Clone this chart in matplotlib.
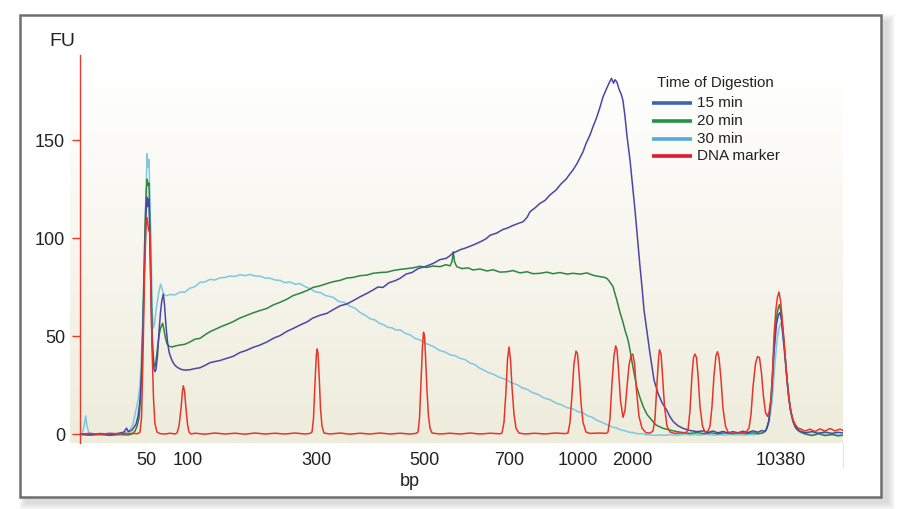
import matplotlib.pyplot as plt
import numpy as np
from matplotlib.lines import Line2D
from matplotlib.patches import Rectangle
from matplotlib.colors import LinearSegmentedColormap

plt.rcParams['font.family'] = ['Liberation Sans', 'DejaVu Sans']

### DATA : migration position (arbitrary units) vs fluorescence (FU)

marker = [(80, 0), (90, 0.3), (100, -0.2), (110, 0.4), (120, 0), (130, 0.3), (138, 0.2),
          (140, 1), (141.5, 8), (143, 40), (144.5, 80), (146, 106), (147, 110.5), (148.5, 104), (150, 103),
          (151, 70), (152, 45), (153.5, 18), (155, 5), (157, 1), (160, 0.2), (165, 0), (170, 0.4), (175, 0),
          (177, 0.5), (179, 4), (181, 13), (182.5, 22), (183.3, 24.6), (184.5, 22), (186, 13), (187.5, 5),
          (189, 1), (191, 0), (195, 0.4), (205, -0.1), (215, 0.5), (225, 0), (235, 0.4), (245, -0.1),
          (255, 0.5), (265, 0), (275, 0.4), (285, 0), (295, 0.5), (305, 0), (310, 0.3),
          (312, 1), (313.5, 8), (315, 26), (316.3, 40), (317.2, 43.4), (318, 41), (319.3, 28), (320.5, 13),
          (322, 4), (324, 0.5), (330, 0), (340, 0.5), (350, -0.1), (360, 0.4), (370, 0), (380, 0.5),
          (390, 0), (400, 0.4), (410, 0), (416, 0.3),
          (418, 1), (419.5, 8), (421, 27), (422.5, 45), (423.5, 51.9), (424.5, 50), (425.5, 40), (427, 22),
          (428.5, 9), (430, 3), (432, 0.5), (440, 0), (450, 0.4), (460, 0), (470, 0.5), (480, 0), (490, 0.4),
          (500, 0.1), (502, 0.5), (504, 6), (506, 22), (507.5, 38), (509, 44.4), (510.5, 38), (512, 24),
          (514, 10), (516, 3), (519, 0.5), (525, 0), (535, 0.4), (545, 0), (555, 0.5), (565, 0.2),
          (568, 0.5), (570, 6), (572, 20), (574, 36), (576, 42.3), (577.5, 41), (579, 32), (581, 16),
          (583, 6), (586, 1), (590, 0.3), (600, 0.5), (606, 0.3),
          (608, 1), (610, 8), (612, 26), (614, 40), (615.7, 45), (617, 43), (618.5, 33), (620.5, 17),
          (623, 8.5), (625, 12), (627, 24), (629, 35), (631, 40), (632.8, 40.8), (634.5, 36), (636.5, 22),
          (639, 9), (642, 3), (646, 0.6), (650, 0.5), (653, 1.5), (655, 8), (657, 26), (658.5, 38),
          (659.5, 43), (661, 41), (662.5, 30), (664.5, 14), (667, 4), (670, 1), (675, 0.3), (682, 0.5),
          (686, 0.8), (688, 2), (690, 12), (692, 30), (693.5, 39), (695, 40.8), (696.5, 39), (698, 30),
          (700, 14), (702.5, 4), (705, 1), (708, 1.5), (710, 4), (712, 14), (714, 30), (716, 40),
          (717.5, 42), (719, 39), (721, 28), (723, 13), (725.5, 4), (728, 1), (733, 0.3), (740, 0.5),
          (746, 1), (749, 3), (751, 10), (753, 24), (755.5, 36), (757.5, 39.5), (759.5, 39), (761.5, 31),
          (763.5, 19), (765.5, 11), (767.5, 9), (769, 11), (771, 18), (772.5, 30), (774, 50), (776, 64),
          (777.5, 70), (779, 72.5), (780.5, 68), (782, 60), (784, 48), (786, 34), (788, 22), (790, 14),
          (792.5, 8), (795, 5), (798, 3), (801, 2.5), (805, 1.5), (810, 2.5), (815, 1.2), (820, 2.6),
          (825, 1.5), (830, 2.8), (835, 1.6), (840, 2.5), (843, 1.8)]

min30 = [(80, 0), (82, 0.2), (84, 4), (85.7, 9.2), (87, 4), (89, 0.5), (95, 0), (100, 0.3), (110, 0),
         (120, 0.2), (126, 0.8), (130, 2), (133, 5), (135, 10), (138, 17), (140, 25), (141.5, 40),
         (143, 62), (144.5, 95), (146, 125), (147.2, 143), (148, 136), (149, 140), (150, 118), (151, 99),
         (152.3, 62), (153.3, 54), (154.5, 56), (156, 63), (157.5, 68), (159, 73), (160.7, 76.5), (162, 74),
         (163.5, 71.5), (166, 70.5), (170, 71.2), (175, 71.0), (180, 72.4), (185, 72.4), (190, 74.4),
         (195, 75.2), (200, 77.4), (205, 77.6), (210, 78.9), (215, 78.6), (220, 79.7), (225, 79.9),
         (230, 80.6), (235, 80.4), (240, 81.3), (245, 80.8), (250, 81.4), (255, 80.6), (260, 80.6),
         (265, 79.6), (270, 79.5), (275, 78.6), (280, 78.4), (285, 77.2), (290, 77.6), (295, 76.4),
         (300, 76.8), (305, 75.2), (310, 74.2), (315, 72.6), (320, 72.2), (326, 70.6), (333, 69.8),
         (339, 67.6), (345, 67.0), (350, 65.2), (355, 64.2), (360, 62.0), (366, 60.4), (370, 58.8),
         (375, 58.2), (379, 56.6), (383, 55.9), (388, 54.4), (392, 54.2), (396, 53.0), (400, 53.2),
         (405, 51.4), (410, 50.6), (415, 48.8), (420, 48.0), (426, 46.2), (433, 44.7), (439, 42.8),
         (445, 41.8), (450, 40.4), (455, 40.0), (460, 38.6), (465, 38.0), (470, 36.2), (475, 35.4),
         (479, 33.8), (483, 32.8), (488, 31.4), (493, 30.6), (499, 29.0), (505, 28.0), (511, 26.2),
         (517, 25.2), (522, 23.6), (527, 22.8), (533, 21.0), (538, 20.2), (544, 18.4), (550, 17.5),
         (556, 15.8), (562, 14.8), (567, 13.4), (572, 13.0), (578, 11.4), (583, 10.8), (588, 9.2),
         (592, 8.6), (596, 7.2), (600, 6.4), (604, 5.4), (608, 4.6), (612, 3.6), (617, 3.0), (621, 2.0),
         (625, 1.7), (629, 0.9), (633, 0.8), (638, 0.1), (642, 0.2), (646, -0.4), (650, -0.4),
         (655, -0.7), (660, -0.5), (665, -0.7), (670, -0.3), (675, -0.6), (680, -0.5), (685, -0.2),
         (690, -0.5), (695, -0.3), (700, -0.6), (705, -0.2), (710, -0.4), (715, -0.6), (720, -0.3),
         (725, -0.6), (730, -0.2), (735, -0.5), (740, -0.3), (745, -0.6), (750, -0.2), (754, -0.4),
         (758, 0), (763, 0.5), (766, 2), (769, 6), (772, 16), (774.5, 33), (777, 48), (779, 54),
         (781, 57), (782.5, 52), (784, 44), (786, 32), (788, 22), (790, 13), (792.5, 7), (795, 3.5),
         (798, 1.5), (802, 0.5), (808, 0), (815, -0.5), (822, 0.2), (830, -0.6), (837, -0.2), (843, -0.5)]

min15 = [(80, 0), (90, -0.3), (100, 0.2), (110, -0.2), (118, 0.3), (124, 1), (126.5, 3), (128.5, 1.2),
         (132, 2), (136, 5), (138, 9), (140, 17), (141.5, 30), (143, 55), (144.5, 85), (146, 112),
         (147, 121), (148, 116), (149, 120), (150, 95), (151, 70), (152, 48), (153, 38), (154, 33),
         (155, 31.8), (156, 33), (157.5, 40), (159, 52), (160.5, 62), (161.8, 68), (163.3, 71.4),
         (164.5, 66), (166, 55), (167.5, 47), (169, 42), (170.5, 39.5), (172.5, 37), (175, 35),
         (178, 33.8), (181, 33), (185, 32.6), (190, 32.8), (195, 33.4), (200, 33.8), (205, 35),
         (210, 36.4), (215, 37), (220, 37.5), (226, 38.5), (233, 39.6), (240, 41.6), (246, 42.6),
         (253, 44.2), (260, 45.4), (267, 47), (274, 49), (280, 50.2), (287, 52.4), (293, 53.8),
         (300, 55.6), (307, 57.2), (313, 59.2), (320, 60.6), (327, 61.6), (333, 63.4), (340, 65.4),
         (347, 66.4), (353, 68), (360, 70), (367, 71.8), (372, 73.2), (378, 75), (383, 74.8),
         (389, 77.2), (395, 78.2), (400, 79.4), (406, 81.6), (412, 82.4), (418, 84.4), (425, 85.4),
         (433, 87), (440, 89), (446, 89.6), (450, 91), (453, 92.4), (456, 93), (460, 94), (466, 95),
         (473, 96.4), (480, 98), (486, 99.6), (490, 101.4), (497, 102.6), (503, 104.4), (507, 105),
         (512, 106.2), (518, 107.4), (523, 108.3), (527, 110.5), (530, 113.4), (535, 115.4),
         (540, 117.7), (545, 119.2), (550, 122), (556, 124.5), (561, 127.6), (566, 130), (570, 132.8),
         (573, 134.7), (577, 138), (580, 141), (583, 144), (586, 148.2), (590, 152.6), (593, 156.8),
         (597, 162), (600, 166.8), (603, 172), (606, 175.6), (609, 179), (611.5, 181.5), (613.5, 179),
         (615, 180.8), (617, 179.5), (619, 176), (621.5, 173), (623, 170), (625, 162), (627, 152),
         (630, 139.8), (632.5, 127), (635, 114.3), (637.5, 100), (640, 85.4), (642, 75), (644, 63.3),
         (646.5, 54), (650, 41), (654, 27.6), (658, 20.8), (662, 16), (666.7, 12.2), (670, 8.8),
         (673.3, 6.3), (678, 4.2), (683, 2.9), (690, 1.8), (697, 1.2), (703, 1.6), (708, 0.8),
         (713, 1.5), (718, 0.6), (723, 1.3), (728, 0.5), (733, 1.2), (738, 0.6), (743, 1.4), (748, 0.8),
         (753, 1.6), (758, 0.9), (762, 1.8), (765, 1.2), (767, 3), (769, 7), (771.5, 20), (774, 42),
         (776.5, 56), (778.5, 61), (780, 62), (781.5, 58), (783, 50), (785, 40), (787, 28), (789, 18),
         (791, 11), (793.5, 6), (796, 3), (800, 1.5), (805, 0.6), (812, 1.2), (818, 0.4), (825, 1),
         (832, 0.3), (838, 0.9), (843, 0.5)]

min20 = [(80, -0.3), (90, -0.6), (100, -0.3), (110, -0.7), (120, -0.3), (128, -0.5), (132, 0),
         (135, 1.5), (137, 4), (139, 8), (140.5, 18), (142, 38), (143.5, 70), (145, 105), (146.3, 124),
         (147.2, 130), (148, 127), (149, 128), (150, 104), (151, 80), (152, 55), (153, 42), (154, 36),
         (155, 34.3), (156, 37), (157.5, 44), (159, 50), (160.5, 54), (162.7, 56.5), (164, 53),
         (165.5, 49), (167, 46), (169, 44.8), (172, 44.4), (176, 45), (180, 45.4), (185, 45.8),
         (190, 47), (195, 48.4), (200, 48.8), (205, 50.6), (210, 52.2), (216, 53.6), (222, 55),
         (228, 56.2), (233, 57.3), (240, 59.2), (246, 60.4), (253, 61.8), (260, 63), (267, 64.1),
         (273, 65.8), (280, 67.2), (287, 68.8), (293, 70.6), (300, 71.8), (307, 73.2), (313, 74.8),
         (320, 75.6), (327, 76.8), (333, 77.7), (340, 78.4), (347, 79.6), (353, 79.9), (360, 80.8),
         (367, 81.1), (373, 82), (380, 82.4), (387, 82.6), (393, 83.4), (400, 84), (407, 84.4),
         (413, 84.8), (420, 85.6), (427, 85), (433, 85.7), (440, 85.4), (446, 86.4), (450, 85.8),
         (452, 88), (453.3, 93), (454.5, 88), (456.7, 85.4), (462, 84.4), (468, 84.8), (473, 83.7),
         (480, 84.2), (487, 83.2), (493, 83.8), (500, 82.6), (507, 82.8), (513, 83.4), (520, 82.2),
         (527, 82.8), (533, 81.8), (540, 82), (547, 82.6), (553, 81.8), (560, 82.4), (567, 81.6),
         (573, 82), (580, 81.6), (587, 82.2), (593, 81), (600, 80.3), (604, 80), (607, 79.4),
         (610, 77.5), (613, 75.2), (617, 68), (620, 62), (623, 57), (625, 53), (628, 48), (630, 42.9),
         (633, 34), (636.7, 24.1), (640, 18.5), (643.3, 13.9), (647, 10), (651.7, 7.1), (656, 4.6),
         (663, 2.9), (670, 2), (677, 1.2), (683, 0.7), (690, 0.3), (697, 0.7), (704, 0.2), (711, 0.6),
         (718, 0.1), (725, 0.6), (732, 0.2), (739, 0.7), (746, 0.2), (753, 0.6), (759, 0.2), (763, 0.6),
         (766, 2), (768.5, 6), (771, 18), (773.5, 40), (776, 58), (778, 64), (779.5, 66), (781, 62),
         (782.5, 55), (784.5, 44), (786.5, 31), (788.5, 20), (790.5, 12), (793, 6.5), (796, 3),
         (800, 1.2), (805, 0), (812, -0.8), (818, 0.2), (825, -0.8), (832, -0.2), (838, -1), (843, -0.6)]

bp_pos = [146, 188, 316, 424, 509, 578, 632, 781]
bp_labels = ['50', '100', '300', '500', '700', '1000', '2000', '10380']

series_names = ['15 min', '20 min', '30 min', 'DNA marker']
trace_colors = ['#4b45a8', '#2e8540', '#7cc8e2', '#e8352a']
legend_colors = ['#3d67b1', '#239447', '#55a8dd', '#e3172f']

W, H = 898, 509
TXT = '#222222'

fig = plt.figure(figsize=(W / 100, H / 100), dpi=100)

# fond : ombre + cadre gris
bg = fig.add_axes([0, 0, 1, 1], zorder=0)
bg.set_xlim(0, W)
bg.set_ylim(H, 0)
bg.axis('off')
for r in range(8):
    bg.add_patch(Rectangle((26 - r, 21 - r), 862 + 2 * r, 482 + 2 * r,
                           facecolor='#7a7a7a', edgecolor='none', alpha=0.035))
bg.add_patch(Rectangle((20, 15), 861, 482, facecolor='white', edgecolor='#6e6e6e', lw=1.8))

# axes principal
ax = fig.add_axes([80 / W, 1 - 443 / H, (843 - 80) / W, (443 - 55) / H], zorder=1)
ax.patch.set_visible(False)
ax.set_xlim(80, 843)
ax.set_ylim(-4.59, 193.4)

cmap = LinearSegmentedColormap.from_list('fond', ['#ffffff', '#f7f6ee', '#eeecdb'])
grad = np.linspace(0, 1, 256).reshape(-1, 1)
ax.imshow(grad, extent=[70, 843, -4.59, 187], aspect='auto', cmap=cmap,
          origin='upper', zorder=0, clip_on=False)

for data, c, z in [(min30, trace_colors[2], 2), (min20, trace_colors[1], 3),
                   (min15, trace_colors[0], 4), (marker, trace_colors[3], 5)]:
    arr = np.array(data)
    ax.plot(arr[:, 0], arr[:, 1], color=c, lw=1.1, zorder=z)

for s in ['top', 'right', 'bottom']:
    ax.spines[s].set_visible(False)
ax.spines['left'].set_color('#e8392c')
ax.spines['left'].set_linewidth(1.0)

ax.set_yticks([0, 50, 100, 150])
ax.tick_params(axis='y', color='#e8392c', length=5.8, width=1.0, pad=5,
               labelsize=13, labelcolor=TXT)
ax.set_xticks(bp_pos, bp_labels)
ax.tick_params(axis='x', length=0, pad=6.5, labelsize=13, labelcolor=TXT)

# textes et légende par dessus
top = fig.add_axes([0, 0, 1, 1], zorder=5)
top.set_xlim(0, W)
top.set_ylim(H, 0)
top.axis('off')
top.text(62, 41, 'FU', ha='center', va='center', fontsize=14, color=TXT)
top.text(410, 482, 'bp', ha='center', va='center', fontsize=13, color=TXT)
top.plot([843, 843], [443, 467], color='#e4e4e4', lw=0.8)

top.text(715, 83, 'Time of Digestion', ha='center', va='center', fontsize=10.8, color=TXT)
for i, (name, c) in enumerate(zip(series_names, legend_colors)):
    yy = 103 + i * 17.8
    top.add_line(Line2D([652, 692], [yy, yy], color=c, lw=2.6, solid_capstyle='butt'))
    top.text(697, yy, name, ha='left', va='center', fontsize=11, color=TXT)

fig.savefig('out.png', dpi=100)
